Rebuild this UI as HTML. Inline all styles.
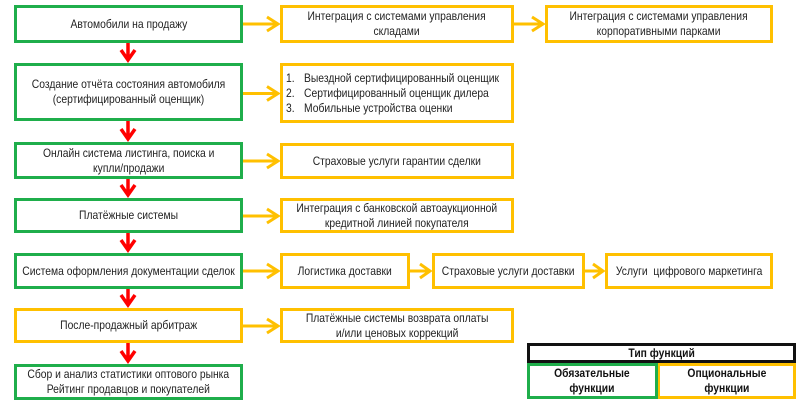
<!DOCTYPE html>
<html><head><meta charset="utf-8">
<style>
html,body{margin:0;padding:0;background:#fff;}
#c{position:relative;width:800px;height:402px;overflow:hidden;background:#fff;font-family:"Liberation Sans",Arial,sans-serif;color:#222;}
svg{position:absolute;left:0;top:0;}
.t{position:absolute;display:flex;align-items:center;justify-content:center;text-align:center;}
.t span{display:inline-block;white-space:nowrap;font-size:12px;line-height:15px;transform:scaleX(0.86);transform-origin:center;}
.b span{font-weight:bold;color:#111;}
.l{position:absolute;font-size:12px;line-height:15px;white-space:nowrap;transform:scaleX(0.86);transform-origin:left center;}
</style></head><body>
<div id="c">
<svg width="800" height="402" viewBox="0 0 800 402">
<g fill="none" stroke-width="3">
 <!-- left column -->
 <rect x="15.5" y="6.5" width="226" height="35" stroke="#1fae4b"/>
 <rect x="15.5" y="64.5" width="226" height="55" stroke="#1fae4b"/>
 <rect x="15.5" y="143.5" width="226" height="34" stroke="#1fae4b"/>
 <rect x="15.5" y="199.5" width="226" height="32" stroke="#1fae4b"/>
 <rect x="15.5" y="254.5" width="226" height="33" stroke="#1fae4b"/>
 <rect x="15.5" y="309.5" width="226" height="32" stroke="#ffc000"/>
 <rect x="15.5" y="365.5" width="226" height="33" stroke="#1fae4b"/>
 <!-- orange column -->
 <rect x="281.5" y="6.5" width="231" height="35" stroke="#ffc000"/>
 <rect x="281.5" y="64.5" width="231" height="57" stroke="#ffc000"/>
 <rect x="281.5" y="144.5" width="231" height="33" stroke="#ffc000"/>
 <rect x="281.5" y="199.5" width="231" height="32" stroke="#ffc000"/>
 <rect x="281.5" y="254.5" width="127" height="33" stroke="#ffc000"/>
 <rect x="281.5" y="309.5" width="231" height="32" stroke="#ffc000"/>
 <rect x="546.5" y="6.5" width="225" height="35" stroke="#ffc000"/>
 <rect x="433.5" y="254.5" width="150" height="33" stroke="#ffc000"/>
 <rect x="606.5" y="254.5" width="165" height="33" stroke="#ffc000"/>
 <!-- legend -->
 <rect x="528.5" y="344.5" width="266" height="17" stroke="#111"/>
 <rect x="658.5" y="364.5" width="136" height="33" stroke="#ffc000"/>
 <rect x="528.5" y="364.5" width="128" height="33" stroke="#1fae4b"/>
</g>
<!-- red arrows -->
<g fill="none" stroke="#ff0000" stroke-width="3.5" stroke-linejoin="miter">
 <path d="M128 43V60M121 50L128 60L135 50"/>
 <path d="M128 121V139M121 129L128 139L135 129"/>
 <path d="M128 179V195M121 185L128 195L135 185"/>
 <path d="M128 233V250M121 240L128 250L135 240"/>
 <path d="M128 289V305M121 295L128 305L135 295"/>
 <path d="M128 343V361M121 351L128 361L135 351"/>
</g>
<!-- orange arrows -->
<g fill="none" stroke="#ffc000" stroke-width="3">
 <path d="M243 24H277M267 17L278 24L267 31"/>
 <path d="M243 93.5H277M267 86.5L278 93.5L267 100.5"/>
 <path d="M243 161H277M267 154L278 161L267 168"/>
 <path d="M243 216H277M267 209L278 216L267 223"/>
 <path d="M243 271H277M267 264L278 271L267 278"/>
 <path d="M243 326H277M267 319L278 326L267 333"/>
 <path d="M514 24H542M532 17L543 24L532 31"/>
 <path d="M410 271H429M420 264L430 271L420 278"/>
 <path d="M585 271H602M593 264L603 271L593 278"/>
</g>
</svg>

<!-- left texts -->
<div class="t" style="left:14px;top:5px;width:229px;height:38px;"><span>Автомобили на продажу</span></div>
<div class="t" style="left:14px;top:63px;width:229px;height:58px;"><span>Создание отчёта состояния автомобиля<br>(сертифицированный оценщик)</span></div>
<div class="t" style="left:14px;top:142px;width:229px;height:37px;"><span>Онлайн система листинга, поиска и<br>купли/продажи</span></div>
<div class="t" style="left:14px;top:198px;width:229px;height:35px;"><span>Платёжные системы</span></div>
<div class="t" style="left:14px;top:253px;width:229px;height:36px;"><span>Система оформления документации сделок</span></div>
<div class="t" style="left:14px;top:308px;width:229px;height:35px;"><span>После-продажный арбитраж</span></div>
<div class="t" style="left:14px;top:364px;width:229px;height:36px;"><span>Сбор и анализ статистики оптового рынка<br>Рейтинг продавцов и покупателей</span></div>

<!-- orange texts -->
<div class="t" style="left:280px;top:5px;width:234px;height:38px;"><span>Интеграция с системами управления<br>складами</span></div>
<div class="l" style="left:286px;top:71px;">1.</div>
<div class="l" style="left:304px;top:71px;">Выездной сертифицированный оценщик</div>
<div class="l" style="left:286px;top:86px;">2.</div>
<div class="l" style="left:304px;top:86px;">Сертифицированный оценщик дилера</div>
<div class="l" style="left:286px;top:101px;">3.</div>
<div class="l" style="left:304px;top:101px;">Мобильные устройства оценки</div>
<div class="t" style="left:280px;top:143px;width:234px;height:36px;"><span>Страховые услуги гарантии сделки</span></div>
<div class="t" style="left:280px;top:198px;width:234px;height:35px;"><span>Интеграция с банковской автоаукционной<br>кредитной линией покупателя</span></div>
<div class="t" style="left:280px;top:253px;width:130px;height:36px;"><span>Логистика доставки</span></div>
<div class="t" style="left:280px;top:308px;width:234px;height:35px;"><span>Платёжные системы возврата оплаты<br>и/или ценовых коррекций</span></div>
<div class="t" style="left:545px;top:5px;width:228px;height:38px;"><span>Интеграция с системами управления<br>корпоративными парками</span></div>
<div class="t" style="left:432px;top:253px;width:153px;height:36px;"><span>Страховые услуги доставки</span></div>
<div class="t" style="left:605px;top:253px;width:168px;height:36px;"><span>Услуги&nbsp; цифрового маркетинга</span></div>

<!-- legend -->
<div class="t b" style="left:527px;top:343px;width:269px;height:20px;"><span>Тип функций</span></div>
<div class="t b" style="left:527px;top:363px;width:130px;height:36px;"><span>Обязательные<br>функции</span></div>
<div class="t b" style="left:657px;top:363px;width:139px;height:36px;"><span>Опциональные<br>функции</span></div>
</div>
</body></html>
